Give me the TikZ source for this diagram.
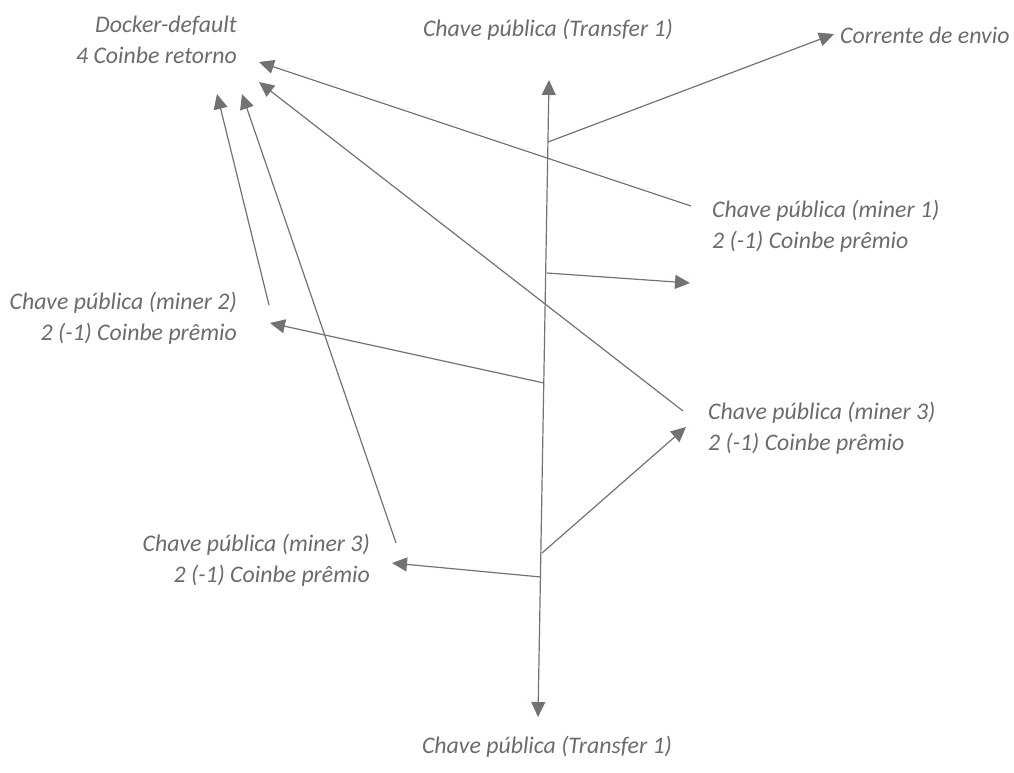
\documentclass[tikz,border=0pt]{standalone}
\usepackage{fontspec}
\setmainfont{Carlito}
\usetikzlibrary{arrows.meta,calc}
\definecolor{lgray}{RGB}{118,113,113}
\definecolor{tgray}{RGB}{110,106,106}
\tikzset{
  lbl/.style={inner sep=0pt, text=tgray, font=\fontsize{23.8}{31}\selectfont\itshape},
  conn/.style={draw=lgray, line width=1.2pt, -{Triangle[length=15pt,width=14pt]}},
  spine/.style={draw=lgray, line width=1.2pt, {Triangle[length=15pt,width=14pt]}-{Triangle[length=15pt,width=14pt]}}
}
\begin{document}
\begin{tikzpicture}[x=1pt,y=-1pt]
\useasboundingbox (0,0) rectangle (1014,772);
% labels
\node[lbl, anchor=center] (top) at (548,30) {Chave pública (Transfer 1)};
\node[lbl, anchor=center] (bot) at (547,747) {Chave pública (Transfer 1)};
\node[lbl, anchor=west] (env) at (840,35) {Corrente de envio};
\node[lbl, anchor=east, align=right] (dock) at (237,40) {Docker-default\\4 Coinbe retorno};
\node[lbl, anchor=west, align=left] (m1) at (712,226) {Chave pública (miner 1)\\2 (-1) Coinbe prêmio};
\node[lbl, anchor=east, align=right] (m2) at (237,318) {Chave pública (miner 2)\\2 (-1) Coinbe prêmio};
\node[lbl, anchor=west, align=left] (m3r) at (708,428) {Chave pública (miner 3)\\2 (-1) Coinbe prêmio};
\node[lbl, anchor=east, align=right] (m3l) at (370,560) {Chave pública (miner 3)\\2 (-1) Coinbe prêmio};
% spine
\coordinate (T) at (549,80);
\coordinate (B) at (538,717);
\draw[spine] (T) -- (B);
\coordinate (J1) at (548,142);
\coordinate (J2) at (547,273);
\coordinate (J3) at (544,383);
\coordinate (J4) at (542,553);
\coordinate (J5) at (541,577);
% branch tips
\coordinate (E1) at (834,34);
\coordinate (E2) at (690,283);
\coordinate (E3) at (270,323);
\coordinate (E4) at (686,427);
\coordinate (E5) at (392,563);
\draw[conn] (J1) -- (E1);
\draw[conn] (J2) -- (E2);
\draw[conn] (J3) -- (E3);
\draw[conn] (J4) -- (E4);
\draw[conn] (J5) -- (E5);
% long arrows to Docker-default
\coordinate (S1) at (691,206);
\coordinate (D1) at (259,62);
\coordinate (S2) at (683,411);
\coordinate (D2) at (259,82);
\coordinate (S3) at (269,305);
\coordinate (D3) at (217,94);
\coordinate (S4) at (396,543);
\coordinate (D4) at (242,94);
\draw[conn] (S1) -- (D1);
\draw[conn] (S2) -- (D2);
\draw[conn] (S3) -- (D3);
\draw[conn] (S4) -- (D4);
\end{tikzpicture}
\end{document}
